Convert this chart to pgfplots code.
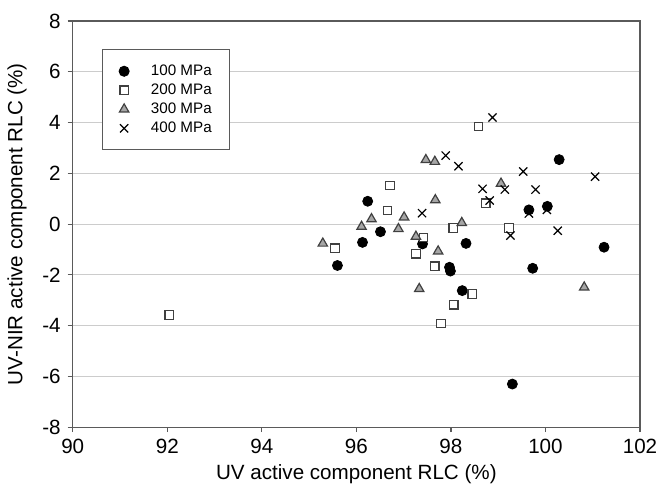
\documentclass[border=0pt]{standalone}
\usepackage{fontspec}
\setmainfont{Liberation Sans}
\usepackage{pgfplots}
\pgfplotsset{compat=1.18}
\definecolor{axgray}{HTML}{5A5A5A}
\definecolor{gridgray}{HTML}{CCCCCC}
\definecolor{trifill}{HTML}{A6A6A6}
\definecolor{mkedge}{HTML}{404040}
\begin{document}
\begin{tikzpicture}
\begin{axis}[
  scale only axis, width=283.5pt, height=203pt,
  xmin=90, xmax=102, ymin=-8, ymax=8,
  xtick={90,92,...,102}, ytick={-8,-6,...,8},
  xticklabels={90,92,94,96,98,100,102},
  yticklabels={-8,-6,-4,-2,0,2,4,6,8},
  tick align=outside, major tick length=2.5pt, tick pos=left,
  axis line style={axgray, line width=0.6pt},
  every tick/.style={axgray, line width=0.6pt},
  ymajorgrids, grid style={gridgray, line width=0.6pt},
  ticklabel style={font=\fontsize{10.3}{12}\selectfont},
  label style={font=\fontsize{10.3}{12}\selectfont},
  xlabel={UV active component RLC (\%)},
  xlabel style={yshift=1.5pt},
  ylabel={UV-NIR active component RLC (\%)},
  ylabel style={yshift=1pt},
  legend style={at={(0.051,0.930)}, anchor=north west, draw=axgray, line width=0.5pt,
    font=\fontsize{7.6}{9}\selectfont, inner xsep=7pt, inner ysep=7.4pt, row sep=3pt,
    nodes={inner xsep=2pt, inner ysep=0pt, text height=5.5pt, text depth=1pt},
    legend cell align=left},
  legend image code/.code={\path[draw=none,fill=none] (-0.14cm,0cm) -- (0.4cm,0cm); \draw[#1] plot coordinates {(0cm,0cm)};},
]
\addplot[only marks, mark=*, mark size=2.5pt, fill=black, draw=black] coordinates {
(95.60,-1.63) (96.13,-0.72) (96.24,0.90) (96.51,-0.30) (97.40,-0.78)
(97.97,-1.70) (97.99,-1.85) (98.24,-2.62) (98.32,-0.76) (99.30,-6.30)
(99.65,0.56) (100.04,0.70) (99.73,-1.74) (100.29,2.54) (101.24,-0.91)
};
\addlegendentry{100 MPa}
\addplot[only marks, mark=square*, mark size=2.1pt, fill=white, draw=mkedge, mark options={line width=0.6pt}] coordinates {
(92.04,-3.58) (95.55,-0.95) (96.66,0.53) (96.71,1.52) (97.26,-1.17)
(97.42,-0.52) (97.66,-1.66) (97.79,-3.92) (98.05,-0.15) (98.06,-3.18)
(98.45,-2.75) (98.58,3.84) (98.74,0.82) (99.23,-0.15)
};
\addlegendentry{200 MPa}
\addplot[only marks, mark=triangle*, mark size=2.7pt, fill=trifill, draw=mkedge, mark options={line width=0.6pt}] coordinates {
(95.29,-0.76) (96.11,-0.10) (96.32,0.20) (96.89,-0.19) (97.01,0.27)
(97.26,-0.49) (97.33,-2.55) (97.47,2.53) (97.66,2.46) (97.67,0.95)
(97.73,-1.07) (98.23,0.05) (99.06,1.60) (100.82,-2.49)
};
\addlegendentry{300 MPa}
\addplot[only marks, mark=x, mark size=2.9pt, draw=black, mark options={line width=0.6pt}] coordinates {
(97.39,0.43) (97.89,2.70) (98.16,2.28) (98.67,1.39) (98.82,0.93)
(98.88,4.20) (99.14,1.36) (99.26,-0.45) (99.53,2.07) (99.65,0.42)
(99.79,1.36) (100.03,0.56) (100.26,-0.26) (101.05,1.87)
};
\addlegendentry{400 MPa}
\end{axis}
\pgfresetboundingbox
\path[use as bounding box] ([xshift=-36.35pt,yshift=-32pt]current axis.south west) rectangle ([xshift=10pt,yshift=10.5pt]current axis.north east);
\end{tikzpicture}
\end{document}
